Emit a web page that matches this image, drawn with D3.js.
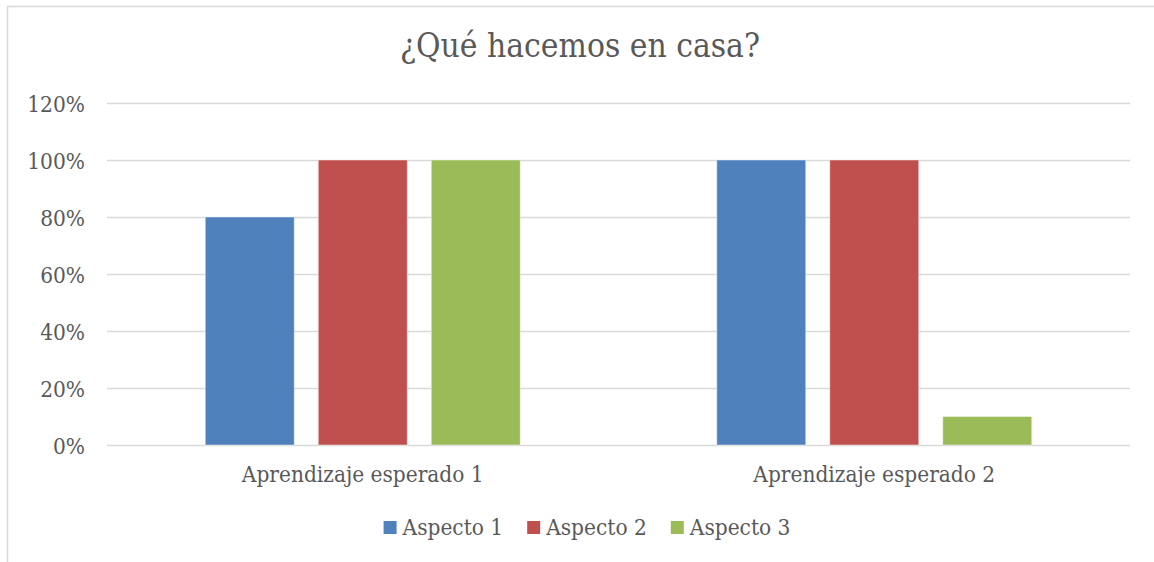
<!DOCTYPE html>
<html>
<head>
<meta charset="utf-8">
<script src="https://cdn.jsdelivr.net/npm/d3@7"></script>
<style>
html,body{margin:0;padding:0;background:#fff;}
svg{display:block;}
</style>
</head>
<body>
<svg id="chart" width="1154" height="562"></svg>
<script>
const title = "¿Qué hacemos en casa?";
const categories = ["Aprendizaje esperado 1", "Aprendizaje esperado 2"];
const seriesNames = ["Aspecto 1", "Aspecto 2", "Aspecto 3"];
const aspecto1 = [0.80, 1.00];
const aspecto2 = [1.00, 1.00];
const aspecto3 = [1.00, 0.10];
const yTicks = [0, 0.2, 0.4, 0.6, 0.8, 1.0, 1.2];
const colors = ["#4F81BD", "#C0504D", "#9BBB59"];

const seriesValues = [aspecto1, aspecto2, aspecto3];
const data = categories.map((c, i) => ({
  cat: c,
  vals: seriesNames.map((s, j) => ({ name: s, value: seriesValues[j][i], color: colors[j] }))
}));

const W = 1154, H = 562;
const svg = d3.select("#chart");
const font = "'DejaVu Serif Condensed', 'DejaVu Serif', serif";
const stretch = "condensed";
const textColor = "#595959";
const gridColor = "#d9d9d9";

// chart area border
svg.append("rect").attr("x", 7.5).attr("y", 6.5).attr("width", 1160).attr("height", 600)
  .attr("fill", "#fff").attr("stroke", gridColor).attr("stroke-width", 1.5);

const plot = { left: 107, right: 1130, top: 103, bottom: 445 };

const y = d3.scaleLinear().domain([0, 1.2]).range([plot.bottom, plot.top]);
const pIn = 1 - 315 / 511.5;
const x0 = d3.scaleBand().domain(categories).range([plot.left, plot.right])
  .paddingInner(pIn).paddingOuter(pIn / 2);
const x1 = d3.scaleBand().domain(seriesNames).range([0, x0.bandwidth()])
  .paddingInner(24 / 113).paddingOuter(0);

function styleText(sel, size) {
  return sel.attr("font-family", font).style("font-stretch", stretch)
    .attr("font-size", size).attr("fill", textColor);
}
function measure(txt, size) {
  const t = styleText(svg.append("text"), size).text(txt);
  const w = t.node().getComputedTextLength();
  t.remove();
  return w;
}
const labelSize = 100 * 242 / measure(categories[0], 100);
const titleSize = 100 * 360 / measure(title, 100);

// gridlines + y labels
const yAxis = d3.axisLeft(y).tickValues(yTicks).tickSize(-(plot.right - plot.left))
  .tickPadding(22).tickFormat(d3.format(".0%"));
const gAxis = svg.append("g").attr("transform", `translate(${plot.left},0)`).call(yAxis);
gAxis.select(".domain").remove();
gAxis.selectAll(".tick line").attr("stroke", gridColor).attr("stroke-width", 1.5);
styleText(gAxis.selectAll(".tick text"), labelSize).attr("dy", null).attr("y", 8.5);

// bars
const groups = svg.append("g").selectAll("g").data(data).join("g")
  .attr("transform", d => `translate(${x0(d.cat)},0)`);
groups.selectAll("rect").data(d => d.vals).join("rect")
  .attr("x", d => x1(d.name))
  .attr("width", x1.bandwidth())
  .attr("y", d => y(d.value))
  .attr("height", d => y(0) - y(d.value))
  .attr("fill", d => d.color)
  .attr("stroke", "rgba(255,255,255,0.45)")
  .attr("stroke-width", 1);

// category axis labels
const xAxis = d3.axisBottom(x0).tickSize(0).tickPadding(0);
const gx = svg.append("g").attr("transform", `translate(0,${plot.bottom})`).call(xAxis);
gx.select(".domain").remove();
styleText(gx.selectAll(".tick text"), labelSize).attr("dy", null).attr("y", 37);

// title
styleText(svg.append("text"), titleSize).attr("x", 580).attr("y", 57).attr("text-anchor", "middle").text(title);

// legend
const sq = 13, gapSq = 6, gapItem = 24;
const widths = seriesNames.map(s => measure(s, labelSize));
const total = d3.sum(widths) + seriesNames.length * (sq + gapSq) + (seriesNames.length - 1) * gapItem;
let lx = 587 - total / 2;
const legend = svg.append("g");
seriesNames.forEach((s, i) => {
  legend.append("rect").attr("x", lx).attr("y", 521).attr("width", sq).attr("height", sq).attr("fill", colors[i]);
  styleText(legend.append("text"), labelSize).attr("x", lx + sq + gapSq).attr("y", 535).text(s);
  lx += sq + gapSq + widths[i] + gapItem;
});
</script>
</body>
</html>
